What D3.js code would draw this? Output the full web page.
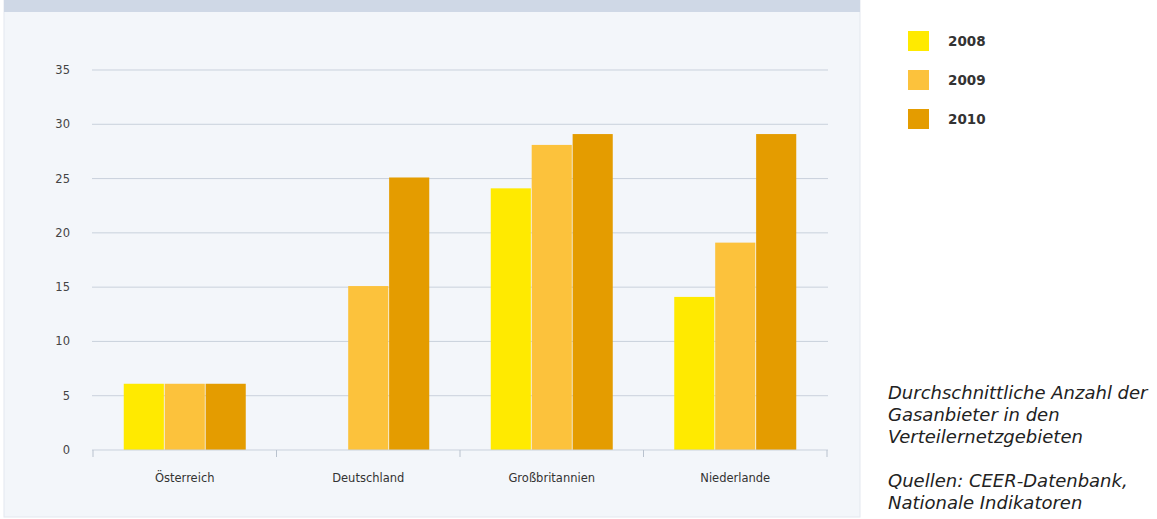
<!DOCTYPE html>
<html>
<head>
<meta charset="utf-8">
<script src="https://cdn.jsdelivr.net/npm/d3@7"></script>
<style>
  body { margin: 0; background: #fff; }
  #canvas { width: 1157px; height: 519px; }
</style>
</head>
<body>
<div id="canvas"></div>
<script>
var countries = ['Österreich', 'Deutschland', 'Großbritannien', 'Niederlande']
var years = ['2008', '2009', '2010']
var v2008 = [6.1, null, 24.1, 14.1]
var v2009 = [6.1, 15.1, 28.1, 19.1]
var v2010 = [6.1, 25.1, 29.1, 29.1]
var yTicks = [0, 5, 10, 15, 20, 25, 30, 35]
var colors = ['#ffea00', '#fcc23c', '#e49c00']
var notes = ['Durchschnittliche Anzahl der', 'Gasanbieter in den', 'Verteilernetzgebieten', '', 'Quellen: CEER-Datenbank,', 'Nationale Indikatoren']

var series = [v2008, v2009, v2010]
var data = []
countries.forEach((c, i) => {
  years.forEach((y, j) => {
    if (series[j][i] != null) data.push({country: c, year: y, value: series[j][i], k: j})
  })
})

var svg = d3.select('#canvas').append('svg')
  .attr('width', 1157)
  .attr('height', 519)

// panel background
svg.append('rect').attr('x', 4).attr('y', 0).attr('width', 856).attr('height', 517)
  .attr('fill', '#f3f6fa').attr('stroke', '#e3e8ef')
svg.append('rect').attr('x', 4).attr('y', 0).attr('width', 856).attr('height', 12)
  .attr('fill', '#cfd8e6')

var x = d3.scaleBand().domain(countries).range([93, 827])
var inset = (x.bandwidth() - 122) / 2
var xi = d3.scaleBand().domain(years).range([inset, inset + 122]).paddingInner(0.02)
var y = d3.scaleLinear().domain([0, 35]).range([450, 70])

// grid
svg.append('g').selectAll('line')
  .data(yTicks.filter(d => d > 0))
  .enter().append('line')
    .attr('x1', 92).attr('x2', 828)
    .attr('y1', d => y(d)).attr('y2', d => y(d))
    .attr('stroke', '#c9d1dc').attr('stroke-width', 1)

svg.append('g').selectAll('text')
  .data(yTicks)
  .enter().append('text')
    .attr('x', 70).attr('y', d => y(d) + 4)
    .attr('text-anchor', 'end')
    .attr('font-family', 'DejaVu Sans, sans-serif')
    .attr('font-size', 11.5)
    .attr('fill', '#444')
    .text(d => d)

// bars
svg.append('g').selectAll('rect')
  .data(data)
  .enter().append('rect')
    .attr('x', d => x(d.country) + xi(d.year))
    .attr('width', xi.bandwidth())
    .attr('y', d => y(d.value))
    .attr('height', d => y(0) - y(d.value))
    .attr('fill', d => colors[d.k])

// x axis
var xAxis = svg.append('g').attr('transform', 'translate(0,450)')
xAxis.append('line').attr('x1', 92).attr('x2', 828).attr('stroke', '#c9d1dc')
xAxis.selectAll('line.tick')
  .data(countries.map(c => x(c)).concat([x.range()[1]]))
  .enter().append('line')
    .attr('class', 'tick')
    .attr('x1', d => d).attr('x2', d => d)
    .attr('y1', 0).attr('y2', 7)
    .attr('stroke', '#b9c2ce')
xAxis.selectAll('text')
  .data(countries)
  .enter().append('text')
    .attr('x', d => x(d) + x.bandwidth() / 2)
    .attr('y', 32)
    .attr('text-anchor', 'middle')
    .attr('font-family', 'DejaVu Sans, sans-serif')
    .attr('font-size', 11.5)
    .attr('fill', '#333')
    .text(d => d)

// legend
var legend = svg.append('g').selectAll('g')
  .data(years)
  .enter().append('g')
    .attr('transform', (d, i) => 'translate(908,' + (31 + i * 39) + ')')
legend.append('rect').attr('width', 21).attr('height', 20).attr('fill', (d, i) => colors[i])
legend.append('text')
  .attr('x', 40).attr('y', 15)
  .attr('font-family', 'DejaVu Sans, sans-serif')
  .attr('font-size', 13.5)
  .attr('font-weight', 'bold')
  .attr('fill', '#333')
  .text(d => d)

// notes
svg.append('g').selectAll('text')
  .data(notes)
  .enter().append('text')
    .attr('x', 888)
    .attr('y', (d, i) => 399 + i * 22)
    .attr('font-family', 'DejaVu Sans, sans-serif')
    .attr('font-style', 'italic')
    .attr('font-size', 18)
    .attr('fill', '#222')
    .text(d => d)
</script>
</body>
</html>
